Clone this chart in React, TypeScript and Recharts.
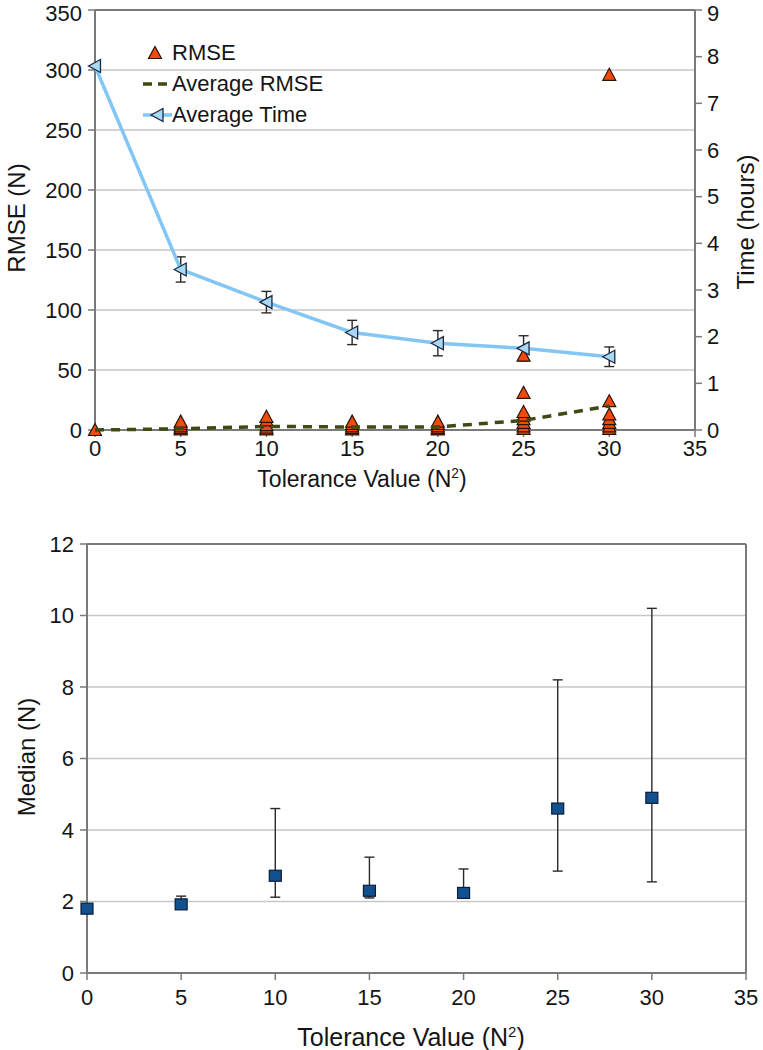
import React from 'react';
import {
  ScatterChart,
  Scatter,
  XAxis,
  YAxis,
  CartesianGrid,
  ErrorBar,
  ReferenceLine,
  Legend,
  Label,
} from 'recharts';

// ---------- data ----------
const tolerance = [0, 5, 10, 15, 20, 25, 30];
const xTicks = [0, 5, 10, 15, 20, 25, 30, 35];
const rmseTicks = [0, 50, 100, 150, 200, 250, 300, 350];
const timeTicks = [0, 1, 2, 3, 4, 5, 6, 7, 8, 9];
const medianTicks = [0, 2, 4, 6, 8, 10, 12];

// individual RMSE runs for each tolerance value
const rmseRuns = [
  [0],
  [0.5, 1.5, 3, 5, 7],
  [0.5, 2, 4, 8, 11],
  [0.5, 1.5, 3, 5, 7],
  [0.5, 1.5, 3, 5, 7],
  [1, 3, 6, 9, 12, 15, 31, 62],
  [1, 3, 6, 9, 13, 24, 296],
];
const avgRmse = [0, 1, 3, 2.5, 2.5, 8, 20];
const avgTime = [7.8, 3.44, 2.74, 2.09, 1.86, 1.75, 1.57];
const timeErr = [0, 0.27, 0.23, 0.26, 0.27, 0.27, 0.21];

const median = [1.8, 1.92, 2.72, 2.3, 2.24, 4.6, 4.9];
const medianLow = [1.8, 1.85, 2.12, 2.1, 2.15, 2.85, 2.55];
const medianHigh = [1.8, 2.15, 4.6, 3.24, 2.91, 8.2, 10.2];

// ---------- tables for the library ----------
const rmsePoints = tolerance.flatMap((t, i) => rmseRuns[i].map((v) => ({ x: t, y: v })));
const avgRmseData = tolerance.map((t, i) => ({ x: t, y: avgRmse[i] }));
const timeData = tolerance.map((t, i) => ({ x: t, y: avgTime[i], err: timeErr[i] }));
const medianData = tolerance.map((t, i) => ({
  x: t,
  y: median[i],
  err: [median[i] - medianLow[i], medianHigh[i] - median[i]],
}));

const FONT = '"Liberation Sans", Arial, Helvetica, sans-serif';
const TEXT = '#151515';
const AXIS = '#7a7a7a';
const GRID = '#c6c6c6';
const ORANGE = '#f24a0c';
const LIGHTBLUE = '#84c6f3';
const MARKERBLUE = '#a8d8f4';
const OLIVE = '#3d4a12';
const NAVY = '#13508f';

const tickStyle = { fill: TEXT, fontSize: 22, fontFamily: FONT };

const UpTriangle = (p: any) => {
  const { cx, cy } = p;
  if (cx == null || cy == null) return <g />;
  return (
    <path
      d={`M${cx},${cy - 6.5} L${cx + 6.5},${cy + 5.5} L${cx - 6.5},${cy + 5.5} Z`}
      fill={ORANGE}
      stroke="#2a140a"
      strokeWidth={1.2}
    />
  );
};

const LeftTriangle = (p: any) => {
  const { cx, cy } = p;
  if (cx == null || cy == null) return <g />;
  return (
    <path
      d={`M${cx - 6.5},${cy} L${cx + 5.5},${cy - 6.5} L${cx + 5.5},${cy + 6.5} Z`}
      fill={MARKERBLUE}
      stroke="#1c2940"
      strokeWidth={1.3}
    />
  );
};

const Square = (p: any) => {
  const { cx, cy } = p;
  if (cx == null || cy == null) return <g />;
  return <rect x={cx - 6} y={cy - 5.5} width={12} height={11} fill={NAVY} stroke="#0a1d38" strokeWidth={1.2} />;
};

const NoShape = () => <g />;

const LegendContent = () => (
  <div style={{ fontFamily: FONT, fontSize: 22, color: TEXT, lineHeight: '31px' }}>
    <div style={{ display: 'flex', alignItems: 'center', height: 31 }}>
      <svg width={32} height={20}>
        <path d="M15,3.5 L21.5,15.5 L8.5,15.5 Z" fill={ORANGE} stroke="#2a140a" strokeWidth={1.2} />
      </svg>
      <span>RMSE</span>
    </div>
    <div style={{ display: 'flex', alignItems: 'center', height: 31 }}>
      <svg width={32} height={20}>
        <line x1={3} y1={10} x2={28} y2={10} stroke={OLIVE} strokeWidth={3.5} strokeDasharray="9 6" />
      </svg>
      <span>Average RMSE</span>
    </div>
    <div style={{ display: 'flex', alignItems: 'center', height: 31 }}>
      <svg width={32} height={20}>
        <line x1={3} y1={10} x2={32} y2={10} stroke={LIGHTBLUE} strokeWidth={3.5} />
        <path d="M11,10 L23,3.5 L23,16.5 Z" fill={MARKERBLUE} stroke="#1c2940" strokeWidth={1.3} />
      </svg>
      <span>Average Time</span>
    </div>
  </div>
);

const XTitle = (x: number, y: number, size: number) => () => (
  <text x={x} y={y} textAnchor="middle" fill={TEXT} fontSize={size} fontFamily={FONT}>
    Tolerance Value (N
    <tspan dy={-9} fontSize={size * 0.6}>
      2
    </tspan>
    <tspan dy={9}>)</tspan>
  </text>
);

const YTitle = (text: string, x: number, y: number, size: number) => () => (
  <text
    x={x}
    y={y}
    textAnchor="middle"
    dominantBaseline="central"
    transform={`rotate(-90 ${x} ${y})`}
    fill={TEXT}
    fontSize={size}
    fontFamily={FONT}
  >
    {text}
  </text>
);

export default function App() {
  return (
    <div
      style={{
        position: 'absolute',
        left: 0,
        top: 0,
        width: 763,
        height: 1050,
        background: '#ffffff',
        fontFamily: FONT,
      }}
    >
      <div style={{ position: 'absolute', left: 0, top: 0 }}>
        <ScatterChart width={763} height={500} margin={{ top: 10, right: 20, bottom: 40, left: 35 }}>
          <CartesianGrid vertical={false} stroke={GRID} strokeWidth={1.5} yAxisId="left" />
          <XAxis
            type="number"
            dataKey="x"
            domain={[0, 35]}
            ticks={xTicks}
            height={30}
            tick={tickStyle}
            tickSize={7}
            tickMargin={3}
            axisLine={{ stroke: AXIS, strokeWidth: 2 }}
            tickLine={{ stroke: AXIS, strokeWidth: 1.5 }}
          >
            <Label content={XTitle(362, 487, 23)} />
          </XAxis>
          <YAxis
            yAxisId="left"
            type="number"
            dataKey="y"
            domain={[0, 350]}
            ticks={rmseTicks}
            width={60}
            tick={tickStyle}
            tickSize={7}
            tickMargin={6}
            axisLine={{ stroke: AXIS, strokeWidth: 2 }}
            tickLine={{ stroke: AXIS, strokeWidth: 1.5 }}
          >
            <Label content={YTitle('RMSE (N)', 16, 218, 24)} />
          </YAxis>
          <YAxis
            yAxisId="right"
            orientation="right"
            type="number"
            dataKey="y"
            domain={[0, 9]}
            ticks={timeTicks}
            width={48}
            tick={tickStyle}
            tickSize={7}
            tickMargin={5}
            axisLine={{ stroke: AXIS, strokeWidth: 2 }}
            tickLine={{ stroke: AXIS, strokeWidth: 1.5 }}
          >
            <Label content={YTitle('Time (hours)', 745, 222, 24)} />
          </YAxis>
          <ReferenceLine yAxisId="left" y={350} stroke={AXIS} strokeWidth={2} />
          <Legend
            layout="vertical"
            align="center"
            verticalAlign="middle"
            content={LegendContent}
            wrapperStyle={{ left: 140, top: 37, width: 240, height: 95 }}
          />
          <Scatter
            name="RMSE"
            yAxisId="left"
            data={rmsePoints}
            shape={UpTriangle}
            isAnimationActive={false}
          />
          <Scatter
            name="Average RMSE"
            yAxisId="left"
            data={avgRmseData}
            shape={NoShape}
            line={{ stroke: OLIVE, strokeWidth: 3.5, strokeDasharray: '9 7' }}
            lineType="joint"
            isAnimationActive={false}
          />
          <Scatter
            name="Average Time"
            yAxisId="right"
            data={timeData}
            shape={LeftTriangle}
            line={{ stroke: LIGHTBLUE, strokeWidth: 3.5 }}
            lineType="joint"
            isAnimationActive={false}
          >
            <ErrorBar dataKey="err" direction="y" width={5} stroke="#2a2a2a" strokeWidth={1.4} />
          </Scatter>
        </ScatterChart>
      </div>

      <div style={{ position: 'absolute', left: 0, top: 500 }}>
        <ScatterChart width={763} height={550} margin={{ top: 44, right: 17, bottom: 47, left: 37 }}>
          <CartesianGrid vertical={false} stroke={GRID} strokeWidth={1.5} />
          <XAxis
            type="number"
            dataKey="x"
            domain={[0, 35]}
            ticks={xTicks}
            height={30}
            tick={tickStyle}
            tickSize={7}
            tickMargin={9}
            axisLine={{ stroke: AXIS, strokeWidth: 2 }}
            tickLine={{ stroke: AXIS, strokeWidth: 1.5 }}
          >
            <Label content={XTitle(411, 546, 25)} />
          </XAxis>
          <YAxis
            type="number"
            dataKey="y"
            domain={[0, 12]}
            ticks={medianTicks}
            width={50}
            tick={tickStyle}
            tickSize={7}
            tickMargin={6}
            axisLine={{ stroke: AXIS, strokeWidth: 2 }}
            tickLine={{ stroke: AXIS, strokeWidth: 1.5 }}
          >
            <Label content={YTitle('Median (N)', 26, 257, 24)} />
          </YAxis>
          <ReferenceLine y={12} stroke={AXIS} strokeWidth={2} />
          <ReferenceLine x={35} stroke={AXIS} strokeWidth={2} />
          <Scatter name="Median" data={medianData} shape={Square} isAnimationActive={false}>
            <ErrorBar dataKey="err" direction="y" width={5} stroke="#2a2a2a" strokeWidth={1.4} />
          </Scatter>
        </ScatterChart>
      </div>
    </div>
  );
}
